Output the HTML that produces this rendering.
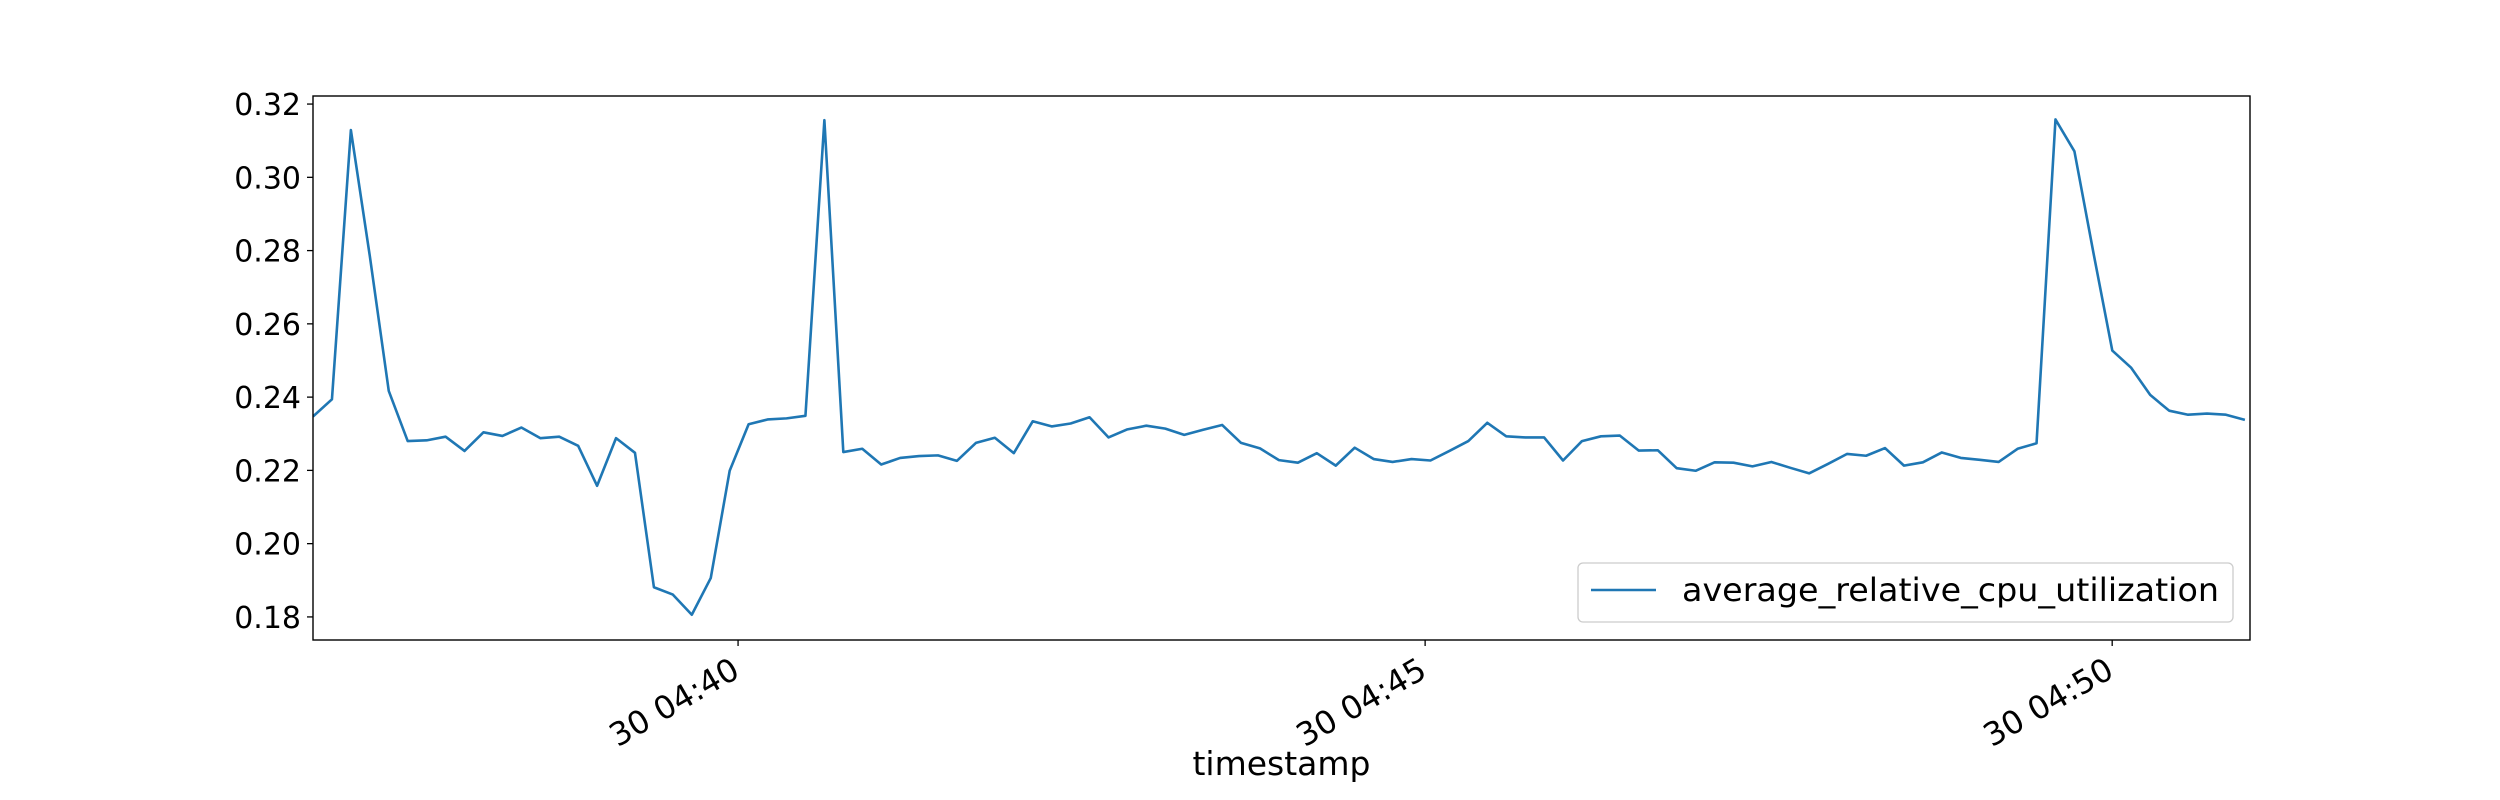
<!DOCTYPE html>
<html>
<head>
<meta charset="utf-8">
<style>
  html, body { margin: 0; padding: 0; background: #fff; }
  svg { display: block; }
  text { font-family: "DejaVu Sans", "Liberation Sans", sans-serif; fill: #000; }
</style>
</head>
<body>
<svg id="chart" width="2500" height="800" viewBox="0 0 2500 800" xmlns="http://www.w3.org/2000/svg">
  <rect x="0" y="0" width="2500" height="800" fill="#fff"/>
  <g id="plot"></g>
</svg>
<script>
// ---- data ----
const seriesName = "average_relative_cpu_utilization";
const startOffsetSec = -185.6;   // first sample, seconds relative to 04:40:00
const sampleStepSec = 8.27;      // seconds between samples
const cpuValues = [
  0.2347,0.2394,0.3129,0.2785,0.2417,0.2280,0.2282,0.2292,0.2253,0.2304,
  0.2294,0.2317,0.2288,0.2292,0.2267,0.2158,0.2288,0.2248,0.1881,0.1861,
  0.1806,0.1906,0.2199,0.2326,0.2339,0.2342,0.2349,0.3156,0.2250,0.2259,
  0.2216,0.2234,0.2239,0.2241,0.2226,0.2275,0.2289,0.2247,0.2334,0.2320,
  0.2328,0.2345,0.2290,0.2312,0.2322,0.2314,0.2297,0.2311,0.2324,0.2275,
  0.2260,0.2228,0.2221,0.2247,0.2213,0.2262,0.2231,0.2223,0.2231,0.2227,
  0.2253,0.2280,0.2330,0.2293,0.2290,0.2290,0.2227,0.2280,0.2293,0.2295,
  0.2254,0.2255,0.2206,0.2199,0.2222,0.2221,0.2211,0.2223,0.2207,0.2192,
  0.2218,0.2245,0.2240,0.2261,0.2213,0.2222,0.2249,0.2234,0.2229,0.2223,
  0.2259,0.2274,0.3158,0.3071,0.2795,0.2527,0.2480,0.2406,0.2363,0.2352,
  0.2355,0.2352,0.2338
];
const yTicks = [0.18, 0.20, 0.22, 0.24, 0.26, 0.28, 0.30, 0.32];
const xTickSec = [0, 300, 600];
const xTickLabels = ["30 04:40", "30 04:45", "30 04:50"];

// ---- layout ----
const L = 313, R = 2250, T = 96, B = 640;
const yMin = 0.1737, yMax = 0.3222;
const xMinSec = startOffsetSec;
const xMaxSec = startOffsetSec + (R - L) / 18.94 * sampleStepSec;
function xs(sec) { return L + (sec - xMinSec) / (xMaxSec - xMinSec) * (R - L); }
function ys(v) { return B - (v - yMin) / (yMax - yMin) * (B - T); }

const NS = "http://www.w3.org/2000/svg";
const g = document.getElementById("plot");
function mk(tag, attrs, parent) {
  const el = document.createElementNS(NS, tag);
  for (const k in attrs) el.setAttribute(k, attrs[k]);
  (parent || g).appendChild(el);
  return el;
}

const defs = mk("defs", {});
const cp = mk("clipPath", {id: "clip"}, defs);
mk("rect", {x: L, y: T, width: R - L, height: B - T}, cp);

const pts = cpuValues.map((v, i) => xs(startOffsetSec + i * sampleStepSec).toFixed(2) + "," + ys(v).toFixed(2)).join(" ");
const line = mk("polyline", {points: pts, fill: "none", stroke: "#1f77b4", "stroke-width": 2.6, "stroke-linejoin": "round", "clip-path": "url(#clip)"});



const frame = mk("rect", {x: L, y: T, width: R - L, height: B - T, fill: "none", stroke: "#000", "stroke-width": 1.4});



yTicks.forEach(v => {
  const y = ys(v);
  const t = mk("line", {x1: L - 6, x2: L, y1: y, y2: y, stroke: "#000", "stroke-width": 1.3});
  
  
  const lab = mk("text", {x: L - 12, y: y + 11, "text-anchor": "end", "font-size": 30});
  lab.textContent = v.toFixed(2);
  
  
});

xTickSec.forEach((s, i) => {
  const x = xs(s);
  const t = mk("line", {x1: x, x2: x, y1: B, y2: B + 6, stroke: "#000", "stroke-width": 1.3});
  
  
  const lab = mk("text", {x: 0, y: 0, "text-anchor": "end", "font-size": 32,
    transform: "translate(" + (x - 8) + "," + (B + 16) + ") rotate(-30) translate(0,23)"});
  lab.textContent = xTickLabels[i];
  
  
});

const xt = mk("text", {x: (L + R) / 2, y: 775, "text-anchor": "middle", "font-size": 33});
xt.textContent = "timestamp";



const lg = mk("g", {});


mk("rect", {x: 1578, y: 563, width: 655, height: 59, rx: 5, fill: "#fff", "fill-opacity": 0.8, stroke: "#cccccc", "stroke-width": 1.3}, lg);
const ll = mk("line", {x1: 1591, x2: 1656, y1: 590, y2: 590, stroke: "#1f77b4", "stroke-width": 2.6}, lg);


const lt = mk("text", {x: 1682, y: 601, "font-size": 32, textLength: 537, lengthAdjust: "spacingAndGlyphs"}, lg);
lt.textContent = seriesName;


</script>
</body>
</html>
